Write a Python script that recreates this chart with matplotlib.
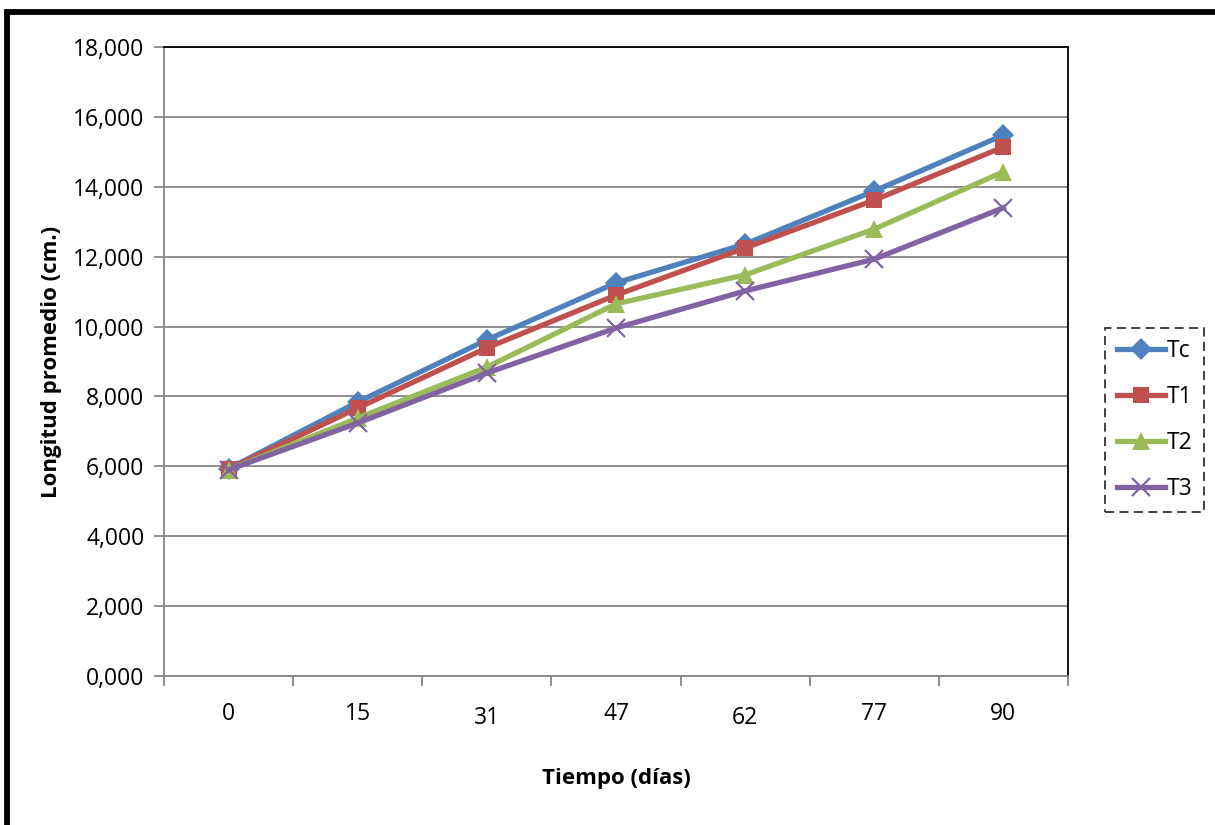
import matplotlib
matplotlib.use("Agg")
import matplotlib.pyplot as plt
from matplotlib.patches import Rectangle
from matplotlib.ticker import FuncFormatter, FixedLocator

plt.rcParams['font.family'] = ['Open Sans', 'DejaVu Sans']

# data
dias = ["0", "15", "31", "47", "62", "77", "90"]
tc = [5.93, 7.84, 9.62, 11.25, 12.36, 13.88, 15.48]
t1 = [5.92, 7.67, 9.39, 10.90, 12.25, 13.62, 15.14]
t2 = [5.90, 7.38, 8.84, 10.65, 11.48, 12.79, 14.43]
t3 = [5.90, 7.24, 8.67, 9.96, 11.02, 11.93, 13.40]

series = [("Tc", tc, "#4F81BD", "D", 11),
          ("T1", t1, "#C0504D", "s", 12),
          ("T2", t2, "#9BBB59", "^", 13),
          ("T3", t3, "#8064A2", "x", 13)]

fig = plt.figure(figsize=(12.15, 8.25), dpi=100)
ax = fig.add_axes([0.135, 0.1806, 0.744, 0.7624])

x = list(range(len(dias)))
for name, vals, col, mk, ms in series:
    kw = dict(markeredgewidth=1.6) if mk == "x" else dict(markeredgewidth=0)
    ax.plot(x, vals, color=col, lw=3.8, marker=mk, markersize=ms,
            markerfacecolor=col, markeredgecolor=col, label=name, **kw)

ax.set_xlim(-0.5, len(dias) - 0.5)
ax.set_ylim(0, 18)
ax.set_yticks(range(0, 19, 2))
ax.yaxis.set_major_formatter(FuncFormatter(lambda v, p: f"{v:.3f}".replace(".", ",")))
ax.grid(axis="y", color="#868686", lw=1.3)
ax.set_axisbelow(True)

# category ticks on boundaries, labels at centers
ax.xaxis.set_major_locator(FixedLocator([i - 0.5 for i in range(len(dias) + 1)]))
ax.xaxis.set_major_formatter(FuncFormatter(lambda v, p: ""))
ax.xaxis.set_minor_locator(FixedLocator(x))
ax.set_xticklabels(dias, minor=True)
ax.tick_params(axis="x", which="minor", length=0, pad=19, labelsize=16.5)
ax.tick_params(axis="x", which="major", length=7, color="#868686", width=1.3)
ax.tick_params(axis="y", length=7, color="#868686", width=1.3, labelsize=16.5, pad=7)
for lbl in ax.xaxis.get_minorticklabels():
    if lbl.get_text() in ("31", "62"):
        lbl.set_y(-0.005)

for s in ("left", "bottom"):
    ax.spines[s].set_color("#868686")
    ax.spines[s].set_linewidth(1.3)
for s in ("top", "right"):
    ax.spines[s].set_color("black")
    ax.spines[s].set_linewidth(1.3)

ax.set_xlabel("Tiempo (días)", fontsize=16, fontweight="bold", labelpad=28)
ax.set_ylabel("Longitud promedio (cm.)", fontsize=16, fontweight="bold", labelpad=8)

leg = ax.legend(loc="center left", bbox_to_anchor=(1.041, 0.407), fontsize=16.5,
                frameon=True, fancybox=False, handlelength=2.1,
                handletextpad=0.1, labelspacing=0.95, borderpad=0.5,
                borderaxespad=0)
fr = leg.get_frame()
fr.set_edgecolor("black")
fr.set_linestyle((0, (5, 3)))
fr.set_linewidth(1.3)

# thick outer frame (right and bottom edges fall outside the image)
fig.patches.append(Rectangle((0.006, -0.05), 1.05, 1.035, transform=fig.transFigure,
                             fill=False, edgecolor="black", lw=4.2))

fig.savefig("out.png", dpi=100)
